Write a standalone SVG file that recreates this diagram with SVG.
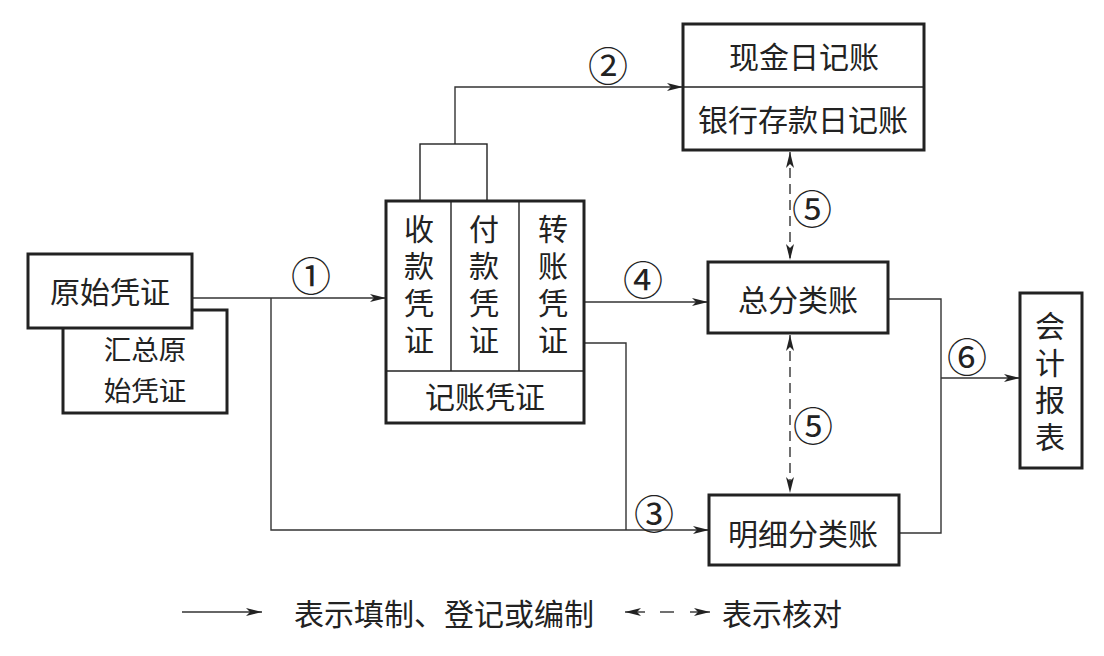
<svg xmlns="http://www.w3.org/2000/svg" width="1104" height="656" viewBox="0 0 1104 656">
<style>
  text { font-family: "Noto Sans CJK SC", "Noto Sans", sans-serif; font-size: 30px; fill: #222; text-anchor: middle; dominant-baseline: central; }
  .num { font-size: 40px; }
  .vert { writing-mode: vertical-rl; letter-spacing: 7px; }
  .box { fill: #fff; stroke: #222; stroke-width: 3; }
  .thin { fill: none; stroke: #222; stroke-width: 1.4; }
  .conn { fill: none; stroke: #333; stroke-width: 1.4; }
  .dash { fill: none; stroke: #333; stroke-width: 1.4; stroke-dasharray: 10 6; }
</style>
<defs>
  <marker id="arr" viewBox="0 0 16 10" refX="16" refY="5" markerWidth="16" markerHeight="10" markerUnits="userSpaceOnUse" orient="auto">
    <path d="M0,1 L16,5 L0,9 L4,5 Z" fill="#222"/>
  </marker>
  <marker id="arrs" viewBox="0 0 16 10" refX="16" refY="5" markerWidth="16" markerHeight="10" markerUnits="userSpaceOnUse" orient="auto-start-reverse">
    <path d="M0,1 L16,5 L0,9 L4,5 Z" fill="#222"/>
  </marker>
</defs>
<rect width="1104" height="656" fill="#fff"/>

<g id="connectors">
  <!-- ① -->
  <path class="conn" d="M192,298 H386" marker-end="url(#arr)"/>
  <text class="num" x="311" y="274">①</text>
  <!-- ③ -->
  <path class="conn" d="M271,298 V530 H709" marker-end="url(#arr)"/>
  <path class="conn" d="M584,343 H626 V530"/>
  <text class="num" x="654" y="512">③</text>
  <!-- ② -->
  <path class="conn" d="M455,144 V87 H683" marker-end="url(#arr)"/>
  <text class="num" x="608" y="64">②</text>
  <!-- ④ -->
  <path class="conn" d="M584,302 H708" marker-end="url(#arr)"/>
  <text class="num" x="643" y="278">④</text>
  <!-- ⑤ -->
  <path class="dash" d="M790,152 V260" marker-start="url(#arrs)" marker-end="url(#arrs)"/>
  <text class="num" x="812" y="207">⑤</text>
  <path class="dash" d="M790,335 V493" marker-start="url(#arrs)" marker-end="url(#arrs)"/>
  <text class="num" x="813" y="424">⑤</text>
  <!-- ⑥ -->
  <path class="conn" d="M888,299 H941 V533 H899"/>
  <path class="conn" d="M941,378 H1020" marker-end="url(#arr)"/>
  <text class="num" x="967" y="355">⑥</text>
</g>

<g id="node-huizong">
  <rect class="box" x="63" y="310" width="164" height="103"/>
  <text style="font-size:27.5px"><tspan x="145" y="348">汇总原</tspan><tspan x="145" y="389">始凭证</tspan></text>
</g>

<g id="node-yuanshi">
  <rect class="box" x="28" y="254" width="164" height="74"/>
  <text x="110" y="290">原始凭证</text>
</g>

<g id="node-jizhang">
  <rect class="thin" x="420" y="144" width="67" height="57"/>
  <rect class="box" x="386" y="201" width="198" height="222"/>
  <line class="thin" x1="451" y1="201" x2="451" y2="371"/>
  <line class="thin" x1="519" y1="201" x2="519" y2="371"/>
  <line class="thin" x1="386" y1="371" x2="584" y2="371"/>
  <text class="vert" x="419" y="288">收款凭证</text>
  <text class="vert" x="484" y="288">付款凭证</text>
  <text class="vert" x="553" y="288">转账凭证</text>
  <text x="485" y="395">记账凭证</text>
</g>

<g id="node-rijizhang">
  <rect class="box" x="683" y="24" width="241" height="126"/>
  <line class="thin" x1="683" y1="87" x2="924" y2="87"/>
  <text x="804" y="55">现金日记账</text>
  <text x="803" y="118">银行存款日记账</text>
</g>

<g id="node-zongfenlei">
  <rect class="box" x="708" y="262" width="180" height="71"/>
  <text x="798" y="298">总分类账</text>
</g>

<g id="node-mingxi">
  <rect class="box" x="709" y="495" width="190" height="70"/>
  <text x="803" y="532">明细分类账</text>
</g>

<g id="node-kuaiji">
  <rect class="box" x="1020" y="293" width="62" height="175"/>
  <text class="vert" x="1050" y="385">会计报表</text>
</g>

<g id="legend">
  <path class="conn" d="M182,612 H262" marker-end="url(#arr)"/>
  <text x="444" y="612">表示填制、登记或编制</text>
  <path class="conn" d="M660,612 H674"/>
  <path class="conn" d="M690,612 H710" marker-end="url(#arr)"/>
  <path class="conn" d="M645,612 H625" marker-end="url(#arr)"/>
  <text x="782" y="612">表示核对</text>
</g>
</svg>
